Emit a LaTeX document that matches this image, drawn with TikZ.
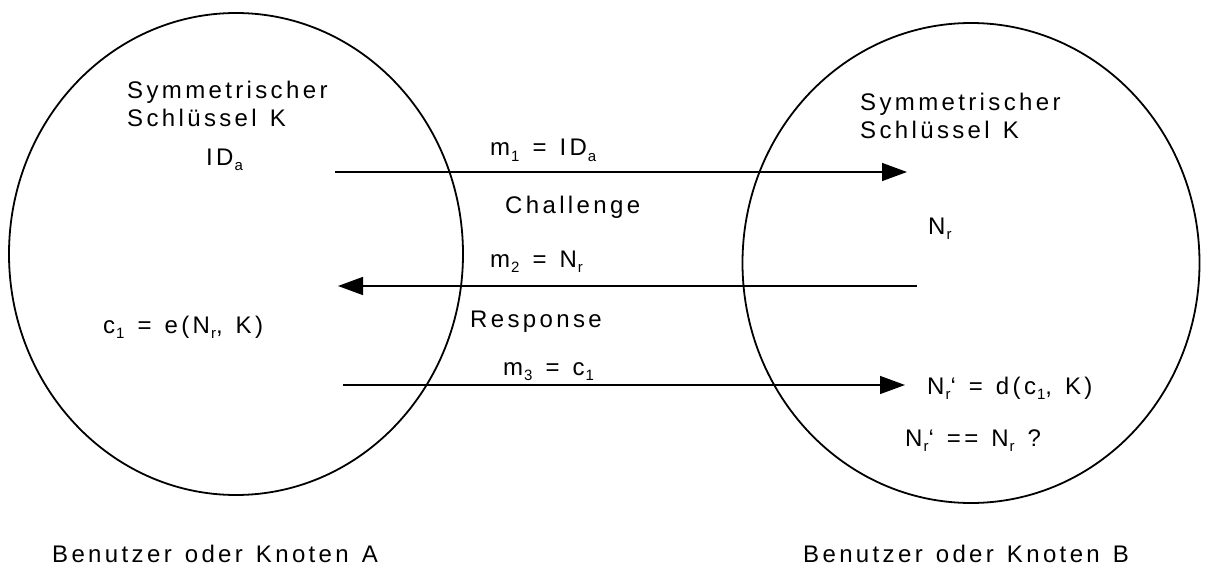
\documentclass[tikz,border=0pt]{standalone}
\usepackage{fontspec}
\setmainfont{Liberation Sans}[LetterSpace=14,WordSpace=1.3]
\usetikzlibrary{arrows.meta,shapes.geometric}
% lowered index, as in N_r or m_1
\newcommand\lo[1]{\hspace{1pt}\raisebox{-0.22em}{\fontsize{15}{16}\selectfont #1}}
\begin{document}
\begin{tikzpicture}[x=1pt,y=-1pt,
  lbl/.style={anchor=base west,inner sep=0pt,font=\fontsize{24}{28}\selectfont},
  party/.style={draw,line width=1.8pt,ellipse,inner sep=0pt},
  msg/.style={line width=1.4pt,-{Triangle[length=25pt,width=18pt]}}]
\path[use as bounding box] (0,0) rectangle (1208,575);

% the two parties
\node[party,minimum width=454pt,minimum height=482pt] (partyA) at (236,254) {};
\node[party,minimum width=457pt,minimum height=480pt] (partyB) at (971,263) {};

% party A
\node[lbl] (symA) at (127,99) {Symmetrischer};
\node[lbl] (keyA) at (127,127) {Schlüssel K};
\node[lbl] (idA) at (206,165) {ID\lo{a}};
\node[lbl] (cA) at (103,333) {c\lo{1} = e(N\lo{r}, K)};

% party B
\node[lbl] (symB) at (860,111) {Symmetrischer};
\node[lbl] (keyB) at (860,139) {Schlüssel K};
\node[lbl] (nrB) at (928,234) {N\lo{r}};
\node[lbl] (dB) at (927,394) {N\lo{r}‘ = d(c\lo{1}, K)};
\node[lbl] (chkB) at (905,446) {N\lo{r}‘ == N\lo{r} ?};

% messages
\node[lbl] (m1) at (490,156) {m\lo{1} = ID\lo{a}};
\node[lbl] (chal) at (505,213) {Challenge};
\node[lbl] (m2) at (490,267) {m\lo{2} = N\lo{r}};
\node[lbl] (resp) at (470,327) {Response};
\node[lbl] (m3) at (503,375) {m\lo{3} = c\lo{1}};

\coordinate (a1s) at (335,172);
\coordinate (a1e) at (907,172);
\coordinate (a2s) at (917,286);
\coordinate (a2e) at (338,286);
\coordinate (a3s) at (343,385);
\coordinate (a3e) at (905,385);
\draw[msg] (a1s) -- (a1e);
\draw[msg] (a2s) -- (a2e);
\draw[msg] (a3s) -- (a3e);

% captions
\node[lbl] (benA) at (52,562) {Benutzer oder Knoten A};
\node[lbl] (benB) at (803,562) {Benutzer oder Knoten B};
\end{tikzpicture}
\end{document}
